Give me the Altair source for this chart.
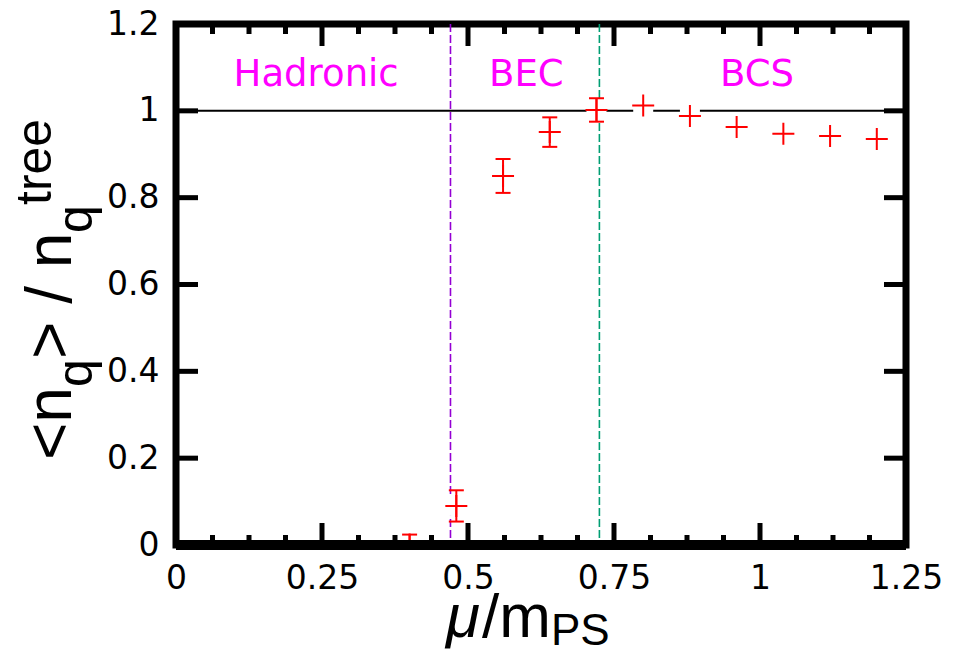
import altair as alt
import pandas as pd

# ---------------- data ----------------
mu = [0.40, 0.48, 0.56, 0.64, 0.72, 0.80, 0.88, 0.96, 1.04, 1.12, 1.20]
ratio = [0.001, 0.090, 0.850, 0.951, 1.002, 1.012, 0.988, 0.963, 0.947, 0.942, 0.935]
err = [0.023, 0.036, 0.039, 0.034, 0.027, 0.0, 0.0, 0.0, 0.0, 0.0, 0.0]

phase_names = ["Hadronic", "BEC", "BCS"]
phase_mu = [0.24, 0.60, 0.995]
phase_level = [1.083, 1.083, 1.083]

boundary_mu = [0.47, 0.725]
boundary_color = ["#9400d3", "#009e73"]

reference_level = 1.0

x_major = [0, 0.25, 0.5, 0.75, 1, 1.25]
x_minor = [0.0625, 0.125, 0.1875, 0.3125, 0.375, 0.4375, 0.5625, 0.625,
           0.6875, 0.8125, 0.875, 0.9375, 1.0625, 1.125, 1.1875]
y_major = [0, 0.2, 0.4, 0.6, 0.8, 1.0, 1.2]

# ---------------- layout ----------------
W, H = 730, 521
PAD = {"left": 176, "top": 24, "right": 958 - 176 - W, "bottom": 655 - 24 - H}
MAJ, MIN, TW = 22, 10, 5

xs = alt.Scale(domain=[0, 1.25], nice=False, zero=False)
ys = alt.Scale(domain=[0, 1.2], nice=False, zero=False)

LABEL_EXPR = "format(datum.value, '.3~g')"
xaxis = alt.Axis(values=x_major, labelExpr=LABEL_EXPR, title=None, ticks=False, tickSize=0,
                 domain=False, grid=False, labelFont="DejaVu Sans", labelFontSize=33,
                 labelPadding=17, labelColor="black", labelFlush=False, labelOverlap=False)
yaxis = alt.Axis(values=y_major, labelExpr=LABEL_EXPR, title=None, ticks=False, tickSize=0,
                 domain=False, grid=False, labelFont="DejaVu Sans", labelFontSize=33,
                 labelPadding=17, labelColor="black", labelFlush=False, labelOverlap=False)


def X(field):
    return alt.X(field, type="quantitative", scale=xs, axis=xaxis)


def Y(field):
    return alt.Y(field, type="quantitative", scale=ys, axis=yaxis)


pts = pd.DataFrame({"mu": mu, "r": ratio, "err": err})
pts["lo"] = pts["r"] - pts["err"]
pts["hi"] = pts["r"] + pts["err"]

RED = "#ff0000"

hline = alt.Chart(pd.DataFrame({"lvl": [reference_level]})).mark_rule(
    color="black", strokeWidth=2).encode(y=Y("lvl"))

vlines = alt.Chart(pd.DataFrame({"b": boundary_mu, "c": boundary_color})).mark_rule(
    strokeDash=[8, 3], strokeWidth=1.6).encode(
    x=X("b"), color=alt.Color("c:N", scale=None))

base = alt.Chart(pts)

blank = base.mark_point(shape="square", size=400, filled=True, color="white",
                        opacity=1, strokeWidth=0, clip=True).encode(x=X("mu"), y=Y("r"))

bars = base.transform_filter("datum.err > 0").mark_rule(
    color=RED, strokeWidth=2, clip=True).encode(x=X("mu"), y=Y("lo"), y2="hi:Q")

caps = base.transform_filter("datum.err > 0").transform_fold(
    ["lo", "hi"], as_=["k", "v"]).mark_point(
    shape="M-1,0H1", size=225, filled=False, color=RED, opacity=1, strokeWidth=2,
    clip=True).encode(x=X("mu"), y=Y("v"))

cross = base.mark_point(shape="M-1,0H1M0,-1V1", size=484, filled=False, color=RED,
                        opacity=1, strokeWidth=2, clip=True).encode(x=X("mu"), y=Y("r"))

bottom_band = alt.Chart(pd.DataFrame({"z": [0]})).mark_rule(
    color="black", strokeWidth=10).encode(y=Y("z"))


def xticks(vals, length, top):
    return alt.Chart(pd.DataFrame({"t": vals})).mark_rule(color="black", strokeWidth=TW).encode(
        x=X("t"), y=alt.value(0 if top else H), y2=alt.value(length if top else H - length))


def yticks(vals, length, right):
    return alt.Chart(pd.DataFrame({"t": vals})).mark_rule(color="black", strokeWidth=TW).encode(
        y=Y("t"), x=alt.value(W if right else 0), x2=alt.value(W - length if right else length))


ticks = [xticks(x_major, MAJ, False), xticks(x_major, MAJ, True),
         xticks(x_minor, MIN, False), xticks(x_minor, MIN, True),
         yticks(y_major, MAJ, False), yticks(y_major, MAJ, True)]

phases = alt.Chart(pd.DataFrame({"name": phase_names, "m": phase_mu, "l": phase_level})).mark_text(
    font="DejaVu Sans", fontSize=37, color="#ff00ff", align="center", baseline="middle").encode(
    x=X("m"), y=Y("l"), text="name:N")


def txt(s, x, y, size, angle=0, italic=False):
    return alt.Chart(pd.DataFrame({"s": [s]})).mark_text(
        align="left", baseline="alphabetic", font="Liberation Sans", fontSize=size,
        angle=angle, fontStyle="italic" if italic else "normal", color="black").encode(
        x=alt.value(x), y=alt.value(y), text="s:N")


F, FS = 64, 50
ylabel = [
    txt("<n", -105, 436, F, 270),
    txt("q", -84, 363, FS, 270),
    txt("> / n", -105, 335, F, 270),
    txt("q", -84, 209, FS, 270),
    txt("tree", -125, 181, FS, 270),
]
xlabel = [
    txt("μ", 270, 613, 62, 0, True),
    txt("/m", 306, 613, 62),
    txt("PS", 375, 621, 44),
]

chart = alt.layer(
    hline, vlines, blank, bars, caps, cross, bottom_band, *ticks, phases, *ylabel, *xlabel
).properties(
    width=W, height=H, padding=PAD, autosize=alt.AutoSizeParams(type="none"),
    background="white"
).configure_view(stroke="black", strokeWidth=7)

chart.save("out.html", embed_options={"renderer": "svg", "actions": False})
